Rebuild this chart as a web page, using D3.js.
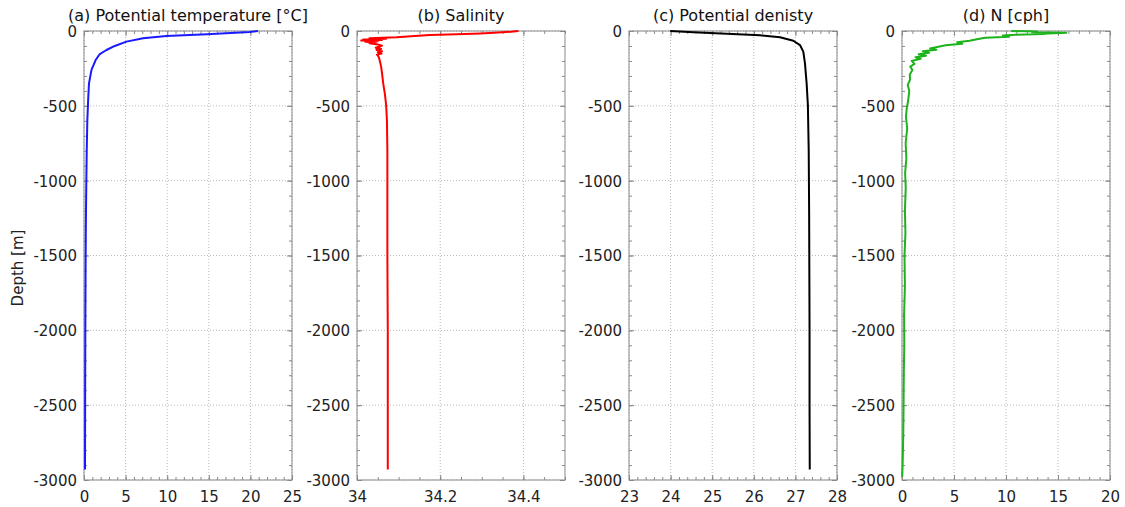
<!DOCTYPE html>
<html>
<head>
<meta charset="utf-8">
<script src="https://cdn.jsdelivr.net/npm/d3@7"></script>
<style>
  body { margin: 0; background: #fff; }
  text { font-family: "DejaVu Sans", sans-serif; }
</style>
</head>
<body>
<svg id="chart"></svg>
<script>
'use strict';

// profile data (depth in m, positive down)
var tempDepth = [0, 7, 22, 33, 49, 71, 100, 127, 154, 194, 260, 350, 460, 600, 800, 1000, 1300, 1600, 2000, 2400, 2930];
var tempVal = [20.9, 19.9, 14.8, 9.9, 7.1, 5.1, 3.7, 2.7, 1.9, 1.4, 0.9, 0.6, 0.5, 0.4, 0.33, 0.28, 0.22, 0.19, 0.16, 0.14, 0.12];

var salDepth = [0, 5, 12, 16, 22, 27, 35, 42, 48, 52, 56, 60, 64, 68, 72, 76, 82, 90, 98, 104, 112, 120, 127, 135, 142, 150, 158, 167, 180, 200, 238, 280, 350, 420, 494, 600, 800, 1000, 1500, 2000, 2500, 2930];
var salVal = [34.388, 34.37, 34.33, 34.296, 34.24, 34.175, 34.13, 34.095, 34.03, 34.07, 34.015, 34.06, 34.01, 34.05, 34.02, 34.045, 34.03, 34.05, 34.06, 34.055, 34.045, 34.058, 34.047, 34.06, 34.05, 34.059, 34.048, 34.051, 34.053, 34.055, 34.058, 34.06, 34.063, 34.067, 34.07, 34.072, 34.073, 34.073, 34.073, 34.074, 34.074, 34.074];

var densDepth = [0, 9, 18, 29, 42, 65, 94, 138, 216, 350, 494, 800, 1200, 1600, 2000, 2500, 2930];
var densVal = [23.99, 24.55, 25.35, 26.15, 26.63, 26.95, 27.11, 27.19, 27.23, 27.27, 27.3, 27.32, 27.33, 27.335, 27.34, 27.34, 27.345];

var nDepth = [0, 4, 8, 12, 16, 20, 25, 30, 38, 45, 55, 65, 75, 85, 95, 105, 116, 125, 135, 145, 155, 165, 175, 185, 200, 220, 238, 260, 290, 327, 360, 400, 460, 520, 573, 650, 750, 850, 950, 1050, 1200, 1350, 1500, 1700, 1900, 2100, 2300, 2500, 2700, 2900, 2980];
var nVal = [10.5, 13, 12.5, 15.8, 14, 13.5, 11, 9.7, 10.3, 8, 7.2, 6.5, 5.3, 5.8, 4.2, 3.5, 2.7, 3.3, 2.0, 2.6, 1.6, 2.3, 1.3, 1.8, 0.93, 1.2, 0.8, 1.0, 0.75, 0.77, 0.55, 0.7, 0.6, 0.45, 0.38, 0.5, 0.35, 0.42, 0.3, 0.36, 0.28, 0.33, 0.24, 0.28, 0.2, 0.22, 0.17, 0.15, 0.12, 0.06, 0.02];

var titles = ['(a) Potential temperature [°C]', '(b) Salinity', '(c) Potential denisty', '(d) N [cph]'];
var depthTicks = [0, -500, -1000, -1500, -2000, -2500, -3000];

// panel setup
var canvasWidth = 1125;
var canvasHeight = 507;
var panelLefts = [84, 357, 629, 902];
var panelTop = 31;
var panelWidth = 208;
var panelHeight = 449;

var panels = [
  { title: titles[0], depth: tempDepth, val: tempVal, domain: [0, 25], major: [0, 5, 10, 15, 20, 25], minor: d3.range(0, 25.01, 1), color: '#1a1aff' },
  { title: titles[1], depth: salDepth, val: salVal, domain: [34, 34.5], major: [34, 34.2, 34.4], minor: d3.range(34, 34.501, 0.05), color: '#ff0000' },
  { title: titles[2], depth: densDepth, val: densVal, domain: [23, 28], major: [23, 24, 25, 26, 27, 28], minor: d3.range(23, 28.01, 0.2), color: '#000000' },
  { title: titles[3], depth: nDepth, val: nVal, domain: [0, 20], major: [0, 5, 10, 15, 20], minor: d3.range(0, 20.01, 1), color: '#1db31d' }
];

var svg = d3.select('#chart')
  .attr('width', canvasWidth)
  .attr('height', canvasHeight);

var yScale = d3.scaleLinear()
  .domain([0, -3000])
  .range([0, panelHeight]);

var fmt = function(d) { return String(+d.toFixed(1)); };

panels.forEach(function(p, i) {
  var g = svg.append('g')
    .attr('transform', 'translate(' + panelLefts[i] + ',' + panelTop + ')');
  var xScale = d3.scaleLinear().domain(p.domain).range([0, panelWidth]);

  // dotted grid
  g.selectAll('.vgrid').data(p.major).enter().append('line')
    .attr('x1', function(d) { return xScale(d); })
    .attr('x2', function(d) { return xScale(d); })
    .attr('y1', 0).attr('y2', panelHeight)
    .attr('stroke', '#b8b8b8').attr('stroke-dasharray', '1,2');
  g.selectAll('.hgrid').data(depthTicks).enter().append('line')
    .attr('x1', 0).attr('x2', panelWidth)
    .attr('y1', function(d) { return yScale(d); })
    .attr('y2', function(d) { return yScale(d); })
    .attr('stroke', '#b8b8b8').attr('stroke-dasharray', '1,2');

  // inward ticks on all four sides
  var addAxis = function(axis, tx, ty) {
    var a = g.append('g').attr('transform', 'translate(' + tx + ',' + ty + ')').call(axis);
    a.select('.domain').remove();
    a.selectAll('line').attr('stroke', '#8a8a8a');
    return a;
  };
  addAxis(d3.axisBottom(xScale).tickValues(p.minor).tickSize(-3).tickFormat(''), 0, panelHeight);
  addAxis(d3.axisTop(xScale).tickValues(p.minor).tickSize(-3).tickFormat(''), 0, 0);
  addAxis(d3.axisLeft(yScale).tickValues(d3.range(0, -3001, -100)).tickSize(-3).tickFormat(''), 0, 0);
  addAxis(d3.axisRight(yScale).tickValues(d3.range(0, -3001, -100)).tickSize(-3).tickFormat(''), panelWidth, 0);

  var bottom = addAxis(d3.axisBottom(xScale).tickValues(p.major).tickSize(-5).tickFormat(fmt), 0, panelHeight);
  bottom.selectAll('text')
    .attr('y', 22).attr('dy', null)
    .attr('fill', '#222').style('font-size', '15px');
  addAxis(d3.axisTop(xScale).tickValues(p.major).tickSize(-5).tickFormat(''), 0, 0);

  var left = addAxis(d3.axisLeft(yScale).tickValues(depthTicks).tickSize(-5).tickFormat(function(d) { return String(d); }), 0, 0);
  left.selectAll('text')
    .attr('x', -7).attr('dy', '0.36em')
    .attr('fill', '#222').style('font-size', '15px');
  addAxis(d3.axisRight(yScale).tickValues(depthTicks).tickSize(-5).tickFormat(''), panelWidth, 0);

  // frame
  g.append('rect')
    .attr('width', panelWidth).attr('height', panelHeight)
    .attr('fill', 'none').attr('stroke', '#8a8a8a');

  // profile
  var pts = p.depth.map(function(d, k) { return [p.val[k], -d]; });
  g.append('path')
    .datum(pts)
    .attr('fill', 'none')
    .attr('stroke', p.color)
    .attr('stroke-width', 2)
    .attr('stroke-linejoin', 'round')
    .attr('d', d3.line()
      .x(function(d) { return xScale(d[0]); })
      .y(function(d) { return yScale(d[1]); }));

  // title
  g.append('text')
    .attr('x', panelWidth / 2).attr('y', -10)
    .attr('text-anchor', 'middle')
    .attr('fill', '#111')
    .style('font-size', '16px')
    .text(p.title);
});

// y label
svg.append('text')
  .attr('transform', 'translate(23,268) rotate(-90)')
  .attr('text-anchor', 'middle')
  .attr('fill', '#222')
  .style('font-size', '15px')
  .text('Depth [m]');
</script>
</body>
</html>
